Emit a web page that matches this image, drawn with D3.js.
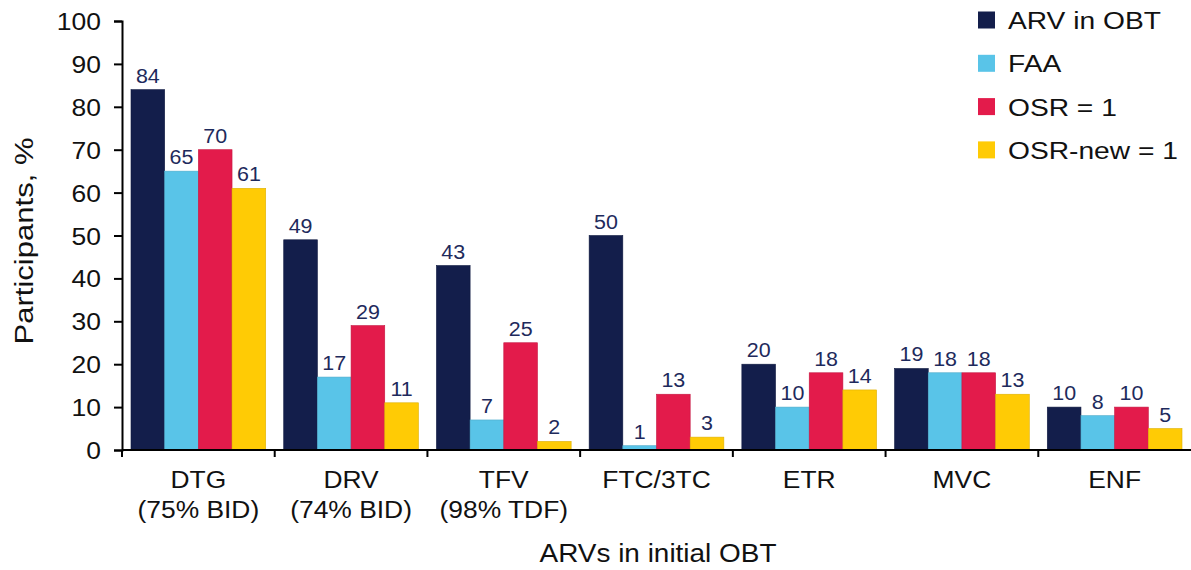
<!DOCTYPE html>
<html>
<head>
<meta charset="utf-8">
<script src="https://cdn.jsdelivr.net/npm/d3@7"></script>
<style>
  body { margin: 0; background: #fff; }
  svg { display: block; font-family: "Liberation Sans", Arial, sans-serif; }
</style>
</head>
<body>
<svg id="chart" width="1191" height="570"></svg>
<script>
// data
var categories = ['DTG', 'DRV', 'TFV', 'FTC/3TC', 'ETR', 'MVC', 'ENF'];
var subLabels = ['(75% BID)', '(74% BID)', '(98% TDF)', '', '', '', ''];
var seriesNames = ['ARV in OBT', 'FAA', 'OSR = 1', 'OSR-new = 1'];
var arvInObt = [84, 49, 43, 50, 20, 19, 10];
var faa = [65, 17, 7, 1, 10, 18, 8];
var osr = [70, 29, 25, 13, 18, 18, 10];
var osrNew = [61, 11, 2, 3, 14, 13, 5];
var yTicks = [0, 10, 20, 30, 40, 50, 60, 70, 80, 90, 100];

var colors = ['#131e4b', '#59c4e8', '#e31b4b', '#ffcb05'];
var seriesValues = [arvInObt, faa, osr, osrNew];

var svg = d3.select('#chart');
var plotLeft = 122, plotRight = 1191, plotTop = 21, plotBottom = 450;

var x = d3.scaleBand().domain(categories).range([plotLeft, plotRight]);
var bw = x.bandwidth();
var xs = d3.scaleBand().domain(seriesNames).range([9, bw - 9]);
var y = d3.scaleLinear().domain([0, 100]).range([plotBottom, plotTop]);

// text is drawn a bit wider than Arial in the original, so stretch it slightly
function wide(sel, cx, cy) {
	sel.attr('transform', 'translate(' + cx + ',' + cy + ') scale(1.1,1)');
}

// bars
var groups = svg.selectAll('g.cat')
	.data(categories)
	.enter().append('g')
	.attr('class', 'cat')
	.attr('transform', function (d) { return 'translate(' + x(d) + ',0)'; });

groups.each(function (cat, ci) {
	var g = d3.select(this);
	seriesNames.forEach(function (s, si) {
		var v = seriesValues[si][ci];
		g.append('rect')
			.attr('x', xs(s))
			.attr('y', y(v))
			.attr('width', xs.bandwidth())
			.attr('height', y(0) - y(v))
			.attr('fill', colors[si])
			.attr('stroke', d3.color(colors[si]).darker(0.4))
			.attr('stroke-width', 0.6);
		g.append('text')
			.call(wide, xs(s) + xs.bandwidth() / 2, y(v) - 7)
			.attr('text-anchor', 'middle')
			.attr('font-size', 19.5)
			.attr('fill', '#1e2a5c')
			.text(v);
	});
});

// y axis
var yAxis = d3.axisLeft(y).tickValues(yTicks).tickSize(8).tickPadding(13);
var gy = svg.append('g').attr('transform', 'translate(' + plotLeft + ',0)').call(yAxis);
gy.select('.domain').attr('stroke', '#000').attr('stroke-width', 2);
gy.selectAll('.tick line').attr('stroke', '#000').attr('stroke-width', 2);
gy.selectAll('.tick text')
	.attr('x', null).attr('dy', null)
	.attr('transform', 'translate(-21,8.5) scale(1.08,1)')
	.attr('font-size', 24.5).attr('fill', '#111')
	.attr('font-family', '"Liberation Sans", Arial, sans-serif');

// x axis: ticks at band boundaries
svg.append('line')
	.attr('x1', plotLeft).attr('x2', plotRight)
	.attr('y1', plotBottom).attr('y2', plotBottom)
	.attr('stroke', '#000').attr('stroke-width', 2);
categories.forEach(function (c) {
	svg.append('line')
		.attr('x1', x(c)).attr('x2', x(c))
		.attr('y1', plotBottom).attr('y2', plotBottom + 7)
		.attr('stroke', '#000').attr('stroke-width', 2);
});

categories.forEach(function (c, i) {
	var t = svg.append('text')
		.call(wide, x(c) + bw / 2, 488)
		.attr('text-anchor', 'middle')
		.attr('font-size', 24)
		.attr('fill', '#111');
	t.append('tspan').attr('x', 0).attr('y', 0).text(c);
	t.append('tspan').attr('x', 0).attr('y', 30).text(subLabels[i]);
});

// axis titles
svg.append('text')
	.attr('x', 658).attr('y', 562)
	.attr('text-anchor', 'middle')
	.attr('font-size', 26)
	.attr('fill', '#111')
	.attr('textLength', 237)
	.attr('lengthAdjust', 'spacingAndGlyphs')
	.text('ARVs in initial OBT');

svg.append('text')
	.attr('transform', 'translate(33,241) rotate(-90)')
	.attr('text-anchor', 'middle')
	.attr('font-size', 26)
	.attr('fill', '#111')
	.attr('textLength', 207)
	.attr('lengthAdjust', 'spacingAndGlyphs')
	.text('Participants, %');

// legend
var legend = svg.append('g').attr('transform', 'translate(978,20)');
seriesNames.forEach(function (s, i) {
	var row = legend.append('g').attr('transform', 'translate(0,' + (i * 43.3) + ')');
	row.append('rect')
		.attr('x', 0).attr('y', -8.5)
		.attr('width', 17).attr('height', 17)
		.attr('fill', colors[i]);
	row.append('text')
		.attr('transform', 'translate(30,9) scale(1.15,1)')
		.attr('font-size', 24.5)
		.attr('fill', '#111')
		.text(s);
});
</script>
</body>
</html>
